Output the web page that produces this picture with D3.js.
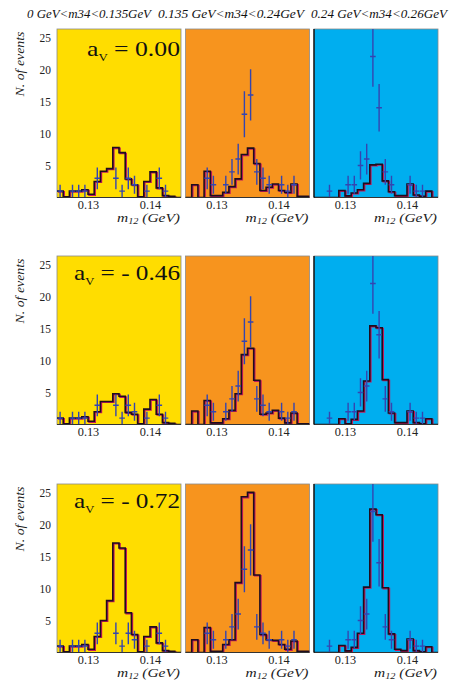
<!DOCTYPE html>
<html><head><meta charset="utf-8">
<script src="https://cdn.jsdelivr.net/npm/d3@7"></script>
<style>html,body{margin:0;padding:0;background:#fff;} svg{display:block;}</style>
</head><body>
<svg id="chart" width="456" height="681"></svg>
<script>
// ---------- data ----------
const columnTitles = ["0 GeV<m34<0.135GeV", "0.135 GeV<m34<0.24GeV", "0.24 GeV<m34<0.26GeV"];
const avValues = ["0.00", "- 0.46", "- 0.72"];
const yTicks = [5, 10, 15, 20, 25];
const xTicks = [0.13, 0.14];
const binEdges = [0.125, 0.126, 0.127, 0.128, 0.129, 0.130, 0.131, 0.132, 0.133, 0.134, 0.135,
                  0.136, 0.137, 0.138, 0.139, 0.140, 0.141, 0.142, 0.143, 0.144, 0.145];

// simulated histograms (rows: a_V = 0.00, -0.46, -0.72)
const histR1C1 = [1.0, 0.1, 1.0, 1.0, 1.2, 0.5, 2.5, 4.1, 4.5, 7.8, 7.0, 2.9, 2.0, 0.1, 2.5, 4.0, 1.5, 0.3, 0.2, 0.0];
const histR1C2 = [0, 2.0, 0, 4.1, 0.3, 0.3, 0.8, 1.7, 2.9, 6.7, 7.7, 5.3, 1.1, 1.6, 2.1, 1.1, 0.8, 2.1, 0.2, 0.2];
const histR1C3 = [0, 0, 0, 0, 1.1, 0.26, 0.7, 1.2, 2.2, 5.1, 5.2, 2.6, 0.9, 0.3, 0.3, 2.1, 0.4, 0.2, 1.0, 0];
const histR2C1 = [1.0, 0.1, 1.0, 1.0, 1.2, 0.5, 2.0, 3.6, 3.6, 4.8, 4.4, 1.9, 1.6, 0.1, 2.4, 3.9, 1.6, 0.3, 0.2, 0.0];
const histR2C2 = [0, 2.1, 0, 3.75, 0.25, 0.25, 0.9, 2.2, 4.8, 10.9, 11.9, 6.9, 1.6, 1.8, 2.2, 1.0, 0.25, 1.8, 0.1, 0.1];
const histR2C3 = [0, 0, 0, 0, 0.9, 0.1, 0.8, 2.1, 6.8, 15.4, 15.1, 7.0, 1.8, 0.3, 0.3, 2.1, 0.3, 0.1, 0.9, 0];
const histR3C1 = [1.0, 0.1, 1.0, 1.0, 1.25, 0.5, 2.5, 5.0, 8.1, 17.1, 16.3, 6.2, 2.8, 0.1, 2.5, 4.0, 1.5, 0.3, 0.2, 0.0];
const histR3C2 = [0, 2.0, 0, 3.9, 0.2, 0.2, 1.25, 2.0, 10.9, 24.3, 25.0, 12.1, 2.8, 2.0, 1.9, 1.25, 0.5, 1.8, 0.2, 0.2];
const histR3C3 = [0, 0, 0, 0, 1.1, 0.25, 0.8, 3.0, 10.2, 22.4, 21.5, 10.1, 2.9, 0.5, 0.3, 2.1, 0.3, 0.1, 0.9, 0];

// measured data points (same in every row)
const dataMassC1 = [0.1255, 0.1275, 0.1285, 0.1295, 0.1315, 0.1345, 0.1355, 0.1365, 0.1375, 0.1395, 0.1415, 0.1425];
const dataCountC1 = [1, 1, 1, 1, 3, 3, 1, 3, 2, 1, 3, 1];
const dataErrC1 = [1, 1, 1, 1, 1.7, 1.7, 1, 1.7, 1.4, 1, 1.7, 1];
const dataMassC2 = [0.1285, 0.1295, 0.1315, 0.1325, 0.1335, 0.1345, 0.1355, 0.1365, 0.1375, 0.1385, 0.1405, 0.1415, 0.1425];
const dataCountC2 = [3, 2, 2, 4, 6, 13, 16, 4, 3, 2, 2, 1, 2];
const dataErrC2 = [1.7, 1.4, 1.4, 2, 2.4, 3.6, 4, 2, 1.7, 1.4, 1.4, 1, 1.4];
const dataMassC3 = [0.1275, 0.1305, 0.1315, 0.1325, 0.1335, 0.1345, 0.1355, 0.1365, 0.1375, 0.1405, 0.1415, 0.1425];
const dataCountC3 = [1, 2, 2, 5, 6, 22, 14, 4, 2, 2, 1, 1];
const dataErrC3 = [1, 1.4, 1.4, 2.2, 2.4, 4.7, 3.7, 2, 1.4, 1.4, 1, 1];

// ---------- layout ----------
const hists = [[histR1C1, histR1C2, histR1C3], [histR2C1, histR2C2, histR2C3], [histR3C1, histR3C2, histR3C3]];
const dataCols = [
  {m: dataMassC1, n: dataCountC1, e: dataErrC1},
  {m: dataMassC2, n: dataCountC2, e: dataErrC2},
  {m: dataMassC3, n: dataCountC3, e: dataErrC3}
];
const panelColors = ["#FFDD00", "#F7941E", "#00AEEF"];
const colLeft = [57, 185.5, 314];
const rowTop = [29, 256, 484];
const panelW = 124, panelH = 168.5;
const titleX = [89, 231, 379];
const titleLen = [124, 146, 136];
const avBaseline = [26.5, 23.5, 23.5];
const avLen = [93, 106, 106];
const xTitleBase = [24, 0, 24];
const serif = "'Liberation Serif', 'DejaVu Serif', serif";

const svg = d3.select("#chart");
const x = d3.scaleLinear().domain([0.125, 0.145]).range([0, panelW]);
const y = d3.scaleLinear().domain([0, 26.3]).range([panelH, 0]);

// column titles
svg.selectAll("text.ctitle").data(columnTitles).enter().append("text")
  .attr("class", "ctitle")
  .attr("x", (d, i) => titleX[i] - titleLen[i] / 2).attr("y", 18)
  .attr("font-family", serif).attr("font-style", "italic").attr("font-size", 12)
  .attr("fill", "#111")
  .attr("textLength", (d, i) => titleLen[i]).attr("lengthAdjust", "spacingAndGlyphs")
  .text(d => d);

const stepLine = d3.line().x(d => x(d[0])).y(d => y(d[1])).curve(d3.curveStepAfter);

for (let r = 0; r < 3; r++) {
  for (let c = 0; c < 3; c++) {
    const g = svg.append("g").attr("transform", `translate(${colLeft[c]},${rowTop[r]})`);
    const clipId = `clip-${r}-${c}`;
    g.append("clipPath").attr("id", clipId).append("rect")
      .attr("x", 0).attr("y", 0).attr("width", panelW).attr("height", panelH);
    g.append("rect").attr("width", panelW).attr("height", panelH)
      .attr("fill", panelColors[c]).attr("stroke", "#8a8a8a").attr("stroke-width", 0.8);

    const plot = g.append("g").attr("clip-path", `url(#${clipId})`);

    // histogram
    const vals = hists[r][c];
    const pts = binEdges.map((e, i) => [e, i < vals.length ? vals[i] : vals[vals.length - 1]]);
    plot.append("path").attr("d", stepLine(pts))
      .attr("transform", "translate(1,0.8)")
      .attr("fill", "none").attr("stroke", "#c2185b").attr("stroke-width", 1.6);
    plot.append("path").attr("d", stepLine(pts))
      .attr("fill", "none").attr("stroke", "#1e0d1e").attr("stroke-width", 1.6);

    // data crosses
    const dc = dataCols[c];
    const idx = d3.range(dc.m.length);
    const cross = plot.selectAll("g.pt").data(idx).enter().append("g").attr("class", "pt");
    cross.append("line")
      .attr("x1", i => x(dc.m[i])).attr("x2", i => x(dc.m[i]))
      .attr("y1", i => y(Math.max(0, dc.n[i] - dc.e[i]))).attr("y2", i => y(dc.n[i] + dc.e[i]))
      .attr("stroke", "#3445b0").attr("stroke-width", 1.4);
    cross.append("line")
      .attr("x1", i => x(dc.m[i]) - 2.8).attr("x2", i => x(dc.m[i]) + 2.8)
      .attr("y1", i => y(dc.n[i])).attr("y2", i => y(dc.n[i]))
      .attr("stroke", "#3445b0").attr("stroke-width", 1.4);

    // bottom line
    g.append("line").attr("x1", 0).attr("x2", panelW).attr("y1", panelH).attr("y2", panelH)
      .attr("stroke", "#333").attr("stroke-width", 1);
    if (c === 2) {
      g.append("line").attr("x1", 0).attr("x2", 0).attr("y1", 0).attr("y2", panelH)
        .attr("stroke", "#000").attr("stroke-width", 1.3);
    }

    // x axis tick labels
    const xa = g.append("g").attr("transform", `translate(0,${panelH})`)
      .call(d3.axisBottom(x).tickValues(xTicks).tickSize(0).tickPadding(2.5).tickFormat(d3.format(".2f")));
    xa.select(".domain").remove();
    xa.attr("font-family", serif).attr("font-size", 12);
    xa.selectAll("text").attr("fill", "#222")
      .attr("textLength", 21.5).attr("lengthAdjust", "spacingAndGlyphs");

    // y axis on first column
    if (c === 0) {
      const ya = g.append("g")
        .call(d3.axisLeft(y).tickValues(yTicks).tickSize(0).tickPadding(6));
      ya.select(".domain").remove();
      ya.attr("font-family", serif).attr("font-size", 12);
      ya.selectAll("text").attr("fill", "#222")
        .attr("textLength", function () { return this.textContent.length * 5.7; })
        .attr("lengthAdjust", "spacingAndGlyphs");

      svg.append("text")
        .attr("transform", `translate(24,${rowTop[r] + 35}) rotate(-90)`)
        .attr("x", -32.5)
        .attr("font-family", serif).attr("font-style", "italic").attr("font-size", 13)
        .attr("fill", "#222")
        .attr("textLength", 65).attr("lengthAdjust", "spacingAndGlyphs")
        .text("N. of events");

      const av = g.append("text")
        .attr("x", panelW - 1 - avLen[r]).attr("y", avBaseline[r])
        .attr("font-family", serif).attr("font-size", 22).attr("fill", "#111")
        .attr("textLength", avLen[r]).attr("lengthAdjust", "spacingAndGlyphs");
      av.append("tspan").text("a");
      av.append("tspan").attr("dy", 5).attr("font-size", 11).text("V");
      av.append("tspan").attr("dy", -5).text(" = " + avValues[r]);
    }

    // x axis title (rows 1 and 3 visible)
    if (r !== 1) {
      const xt = g.append("text")
        .attr("x", panelW - 1 - 63).attr("y", panelH + xTitleBase[r])
        .attr("font-family", serif).attr("font-style", "italic").attr("font-size", 13.5)
        .attr("fill", "#222")
        .attr("textLength", 63).attr("lengthAdjust", "spacingAndGlyphs");
      xt.append("tspan").text("m");
      xt.append("tspan").attr("dy", 2).attr("font-size", 9).text("12");
      xt.append("tspan").attr("dy", -2).text("  (GeV)");
    }
  }
}
</script>
</body></html>
